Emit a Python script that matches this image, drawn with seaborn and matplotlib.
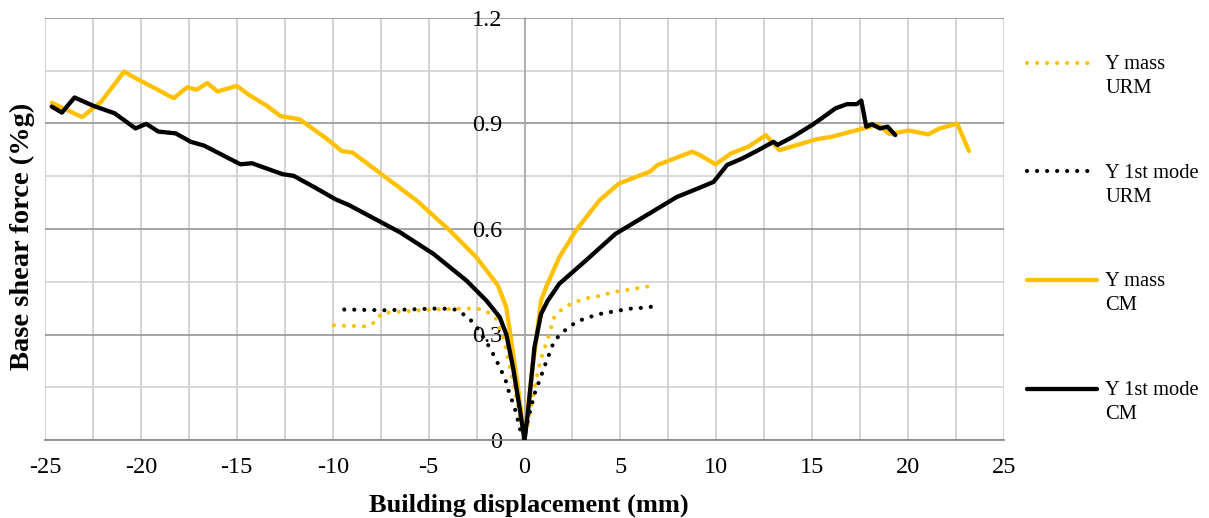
import numpy as np
import pandas as pd
import matplotlib
matplotlib.use("Agg")
import matplotlib.pyplot as plt
from matplotlib.ticker import MultipleLocator
import seaborn as sns

# Pushover curves: base shear vs. building displacement
x_mass_urm = [-9.94, -8.29, -7.79, -7.46, -6.86, -4.67, -3.08, -2.52, -2.05, -1.49, -1.19,
              -0.99, -0.8, -0.6, -0.4, -0.14, 0.0, 0.2, 0.5, 0.7, 0.89, 1.29, 1.5, 1.9,
              2.41, 2.93, 3.45, 3.97, 4.57, 5.09, 5.6, 6.12, 6.73]
y_mass_urm = [0.326, 0.323, 0.335, 0.36, 0.364, 0.371, 0.374, 0.374, 0.369, 0.345, 0.302,
              0.264, 0.216, 0.169, 0.112, 0.045, 0.0, 0.054, 0.14, 0.197, 0.236, 0.30, 0.345, 0.369,
              0.387, 0.398, 0.406, 0.41, 0.42, 0.425, 0.429, 0.434, 0.439]

x_mode_urm = [-9.4, -7.26, -4.47, -3.68, -3.36, -2.93, -2.41, -1.98, -1.64, -1.29, -0.98,
              -0.78, -0.52, -0.34, -0.17, 0.0, 0.17, 0.34, 0.52, 0.78, 1.03, 1.29, 1.55,
              1.98, 2.41, 2.84, 3.36, 3.88, 4.4, 4.91, 5.43, 5.95, 6.63]
y_mode_urm = [0.371, 0.369, 0.374, 0.372, 0.363, 0.349, 0.315, 0.278, 0.245, 0.207, 0.169,
              0.131, 0.093, 0.055, 0.017, 0.0, 0.055, 0.093, 0.131, 0.169, 0.207, 0.245, 0.282,
              0.306, 0.325, 0.339, 0.349, 0.358, 0.363, 0.368, 0.373, 0.375, 0.379]

x_mass_cm = [-24.65, -23.06, -22.07, -20.87, -20.48, -18.29, -17.59, -17.1, -16.54, -16.0,
             -15.0, -14.41, -13.42, -12.72, -11.73, -10.34, -9.54, -8.95, -5.6, -3.88, -2.5,
             -1.38, -0.95, -0.69, -0.34, 0.0, 0.34, 0.6, 0.86, 1.12, 1.81, 2.67, 3.88, 4.92,
             6.53, 6.94, 8.75, 9.15, 9.96, 10.77, 11.67, 12.58, 13.29, 15.2, 16.0, 17.82,
             18.43, 19.03, 20.04, 21.05, 21.65, 22.56, 23.17]
y_mass_cm = [0.959, 0.918, 0.962, 1.048, 1.035, 0.972, 1.003, 0.996, 1.015, 0.991,
             1.007, 0.983, 0.95, 0.921, 0.912, 0.858, 0.822, 0.817, 0.68, 0.595, 0.519,
             0.439, 0.377, 0.282, 0.15, 0.0, 0.169, 0.282, 0.396, 0.434, 0.519, 0.595, 0.68, 0.729,
             0.763, 0.782, 0.820, 0.810, 0.784, 0.815, 0.834, 0.867, 0.824, 0.855, 0.862, 0.888,
             0.896, 0.870, 0.880, 0.869, 0.886, 0.900, 0.822]

x_mode_cm = [-24.65, -24.12, -23.46, -22.47, -21.37, -20.28, -19.72, -19.09, -18.19, -17.4,
             -16.7, -14.81, -14.21, -12.62, -12.03, -10.83, -9.84, -9.15, -6.47, -4.74, -3.02,
             -1.98, -1.29, -0.95, -0.6, -0.26, 0.0, 0.17, 0.52, 0.86, 1.21, 1.81, 3.19, 4.74,
             5.93, 7.94, 9.25, 9.86, 10.56, 11.37, 12.18, 12.98, 13.19, 13.99, 15.0, 15.5,
             16.21, 16.81, 17.32, 17.56, 17.82, 18.12, 18.53, 18.93, 19.33]
y_mode_cm = [0.948, 0.931, 0.974, 0.950, 0.929, 0.886, 0.899, 0.877, 0.872, 0.848,
             0.837, 0.784, 0.787, 0.756, 0.751, 0.715, 0.684, 0.668, 0.59, 0.529, 0.453,
             0.396, 0.349, 0.301, 0.207, 0.093, 0.0, 0.074, 0.264, 0.358, 0.396, 0.444, 0.51, 0.586,
             0.625, 0.691, 0.720, 0.734, 0.782, 0.801, 0.824, 0.848, 0.839, 0.862, 0.896, 0.915,
             0.943, 0.955, 0.955, 0.965, 0.891, 0.898, 0.886, 0.891, 0.867]

series_labels = ["Y mass\nURM", "Y 1st mode\nURM", "Y mass\nCM", "Y 1st mode\nCM"]
x_ticks = [-25, -20, -15, -10, -5, 0, 5, 10, 15, 20, 25]
y_ticks = [0, 0.3, 0.6, 0.9, 1.2]

GOLD = "#FFC000"
BLACK = "#000000"

sns.set_style("white")
plt.rcParams["font.family"] = ["Liberation Serif", "DejaVu Serif"]
plt.rcParams["text.color"] = "black"
plt.rcParams["axes.labelcolor"] = "black"

fig = plt.figure(figsize=(12.09, 5.18), dpi=100)
ax = fig.add_axes([45 / 1209, 1 - 440 / 518, 959 / 1209, 422 / 518])

dot = (0, (0.01, 2.4))
specs = [
    (x_mass_urm, y_mass_urm, GOLD, dot, 3.0),
    (x_mode_urm, y_mode_urm, BLACK, dot, 3.0),
    (x_mass_cm, y_mass_cm, GOLD, "-", 3.1),
    (x_mode_cm, y_mode_cm, BLACK, "-", 3.1),
]
for (xs, ys, col, ls, lw), lab in zip(specs, series_labels):
    df = pd.DataFrame({"disp": xs, "shear": ys})
    sns.lineplot(data=df, x="disp", y="shear", sort=False, estimator=None, ax=ax,
                 color=col, linestyle=ls, linewidth=lw, label=lab, legend=False,
                 dash_capstyle="round", solid_capstyle="round", solid_joinstyle="round",
                 zorder=4)

ax.set_xlim(-25, 25)
ax.set_ylim(0, 1.2)
ax.set_xticks(x_ticks)
ax.set_xticklabels([str(t) for t in x_ticks])
ax.xaxis.set_minor_locator(MultipleLocator(2.5))
ax.set_yticks(y_ticks)
ax.set_yticklabels(["0", "0.3", "0.6", "0.9", "1.2"])
ax.yaxis.set_minor_locator(MultipleLocator(0.15))

ax.grid(False)
ax.grid(which="major", axis="y", color="#8c8c8c", linewidth=1.1, zorder=1)
ax.grid(which="minor", axis="y", color="#d0d0d0", linewidth=1.1, zorder=0)
ax.grid(which="both", axis="x", color="#c8c8c8", linewidth=1.1, zorder=0)
ax.set_axisbelow(True)

for side in ("top", "right"):
    ax.spines[side].set_visible(False)
ax.spines["left"].set_position(("data", 0))
ax.spines["left"].set_color("#a6a6a6")
ax.spines["left"].set_linewidth(1.1)
ax.spines["bottom"].set_color("#8c8c8c")
ax.spines["bottom"].set_linewidth(1.3)

ax.tick_params(axis="x", which="major", direction="out", length=4, width=1.1,
               color="#8c8c8c", pad=8, labelsize=17.5, labelcolor="black")
ax.tick_params(axis="x", which="minor", length=0)
ax.tick_params(axis="y", which="both", length=0, pad=16, labelsize=17.5, labelcolor="black")

ax.set_xlabel("Building displacement (mm)", fontsize=19, fontweight="bold", va="center",
              color="black")
ax.xaxis.set_label_coords((529 - 45) / 959, (440 - 505) / 422)
ax.set_ylabel("Base shear force (%g)", fontsize=20.5, fontweight="bold", va="center",
              color="black")
ax.yaxis.set_label_coords((22 - 45) / 959, (440 - 236) / 422)

fs = 14.8
handles = ax.get_lines()[:4]
leg = fig.legend(handles, series_labels, loc="upper left",
                 bbox_to_anchor=(1027 / 1209, 1 - 55 / 518), frameon=False,
                 fontsize=fs, handlelength=3.4, handletextpad=0.4, labelspacing=3.2,
                 borderpad=0, borderaxespad=0)
for t in leg.get_texts():
    t.set_linespacing(1.35)
    t.set_color("black")
for ln in leg.get_lines():
    ln.set_ydata(np.asarray(ln.get_ydata(), dtype=float) + 0.66 * fs)

fig.savefig("out.png", dpi=100)
